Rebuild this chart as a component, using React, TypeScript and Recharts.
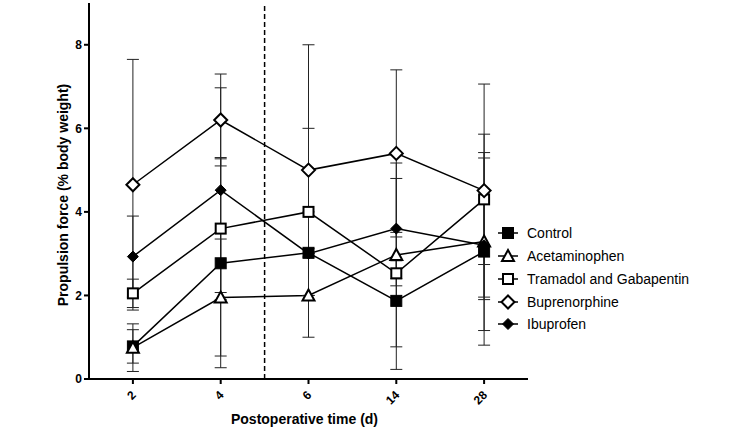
import { LineChart, Line, XAxis, YAxis, ErrorBar, ReferenceLine, Legend } from 'recharts'

// postoperative days (x categories)
const days = ['2', '4', '6', '14', '28']

// mean and SD per group
const controlMean = [0.78, 2.77, 3.02, 1.87, 3.05]
const controlSd = [0.4, 2.5, 0.1, 1.64, 2.24]
const acetaminophenMean = [0.75, 1.95, 2.0, 2.97, 3.29]
const acetaminophenSd = [0.57, 1.4, 1.0, 2.2, 2.13]
const tramadolMean = [2.05, 3.6, 4.0, 2.53, 4.3]
const tramadolSd = [0.34, 1.7, 2.0, 0.3, 1.56]
const buprenorphineMean = [4.65, 6.2, 5.0, 5.4, 4.51]
const buprenorphineSd = [3.0, 1.1, 3.0, 2.0, 2.55]
const ibuprofenMean = [2.93, 4.52, 3.0, 3.6, 3.2]
const ibuprofenSd = [0.97, 2.45, 1.0, 1.2, 1.3]

const yTicks = [0, 2, 4, 6, 8]
// dashed divider sits between day 4 and day 6
const dividerPos = 1.5

const FONT = 'Arial, "Liberation Sans", sans-serif'

type Shape = 'square' | 'triangle' | 'diamond'

const series: { key: string; name: string; shape: Shape; filled: boolean }[] = [
  { key: 'control', name: 'Control', shape: 'square', filled: true },
  { key: 'acetaminophen', name: 'Acetaminophen', shape: 'triangle', filled: false },
  { key: 'tramadol', name: 'Tramadol and Gabapentin', shape: 'square', filled: false },
  { key: 'buprenorphine', name: 'Buprenorphine', shape: 'diamond', filled: false },
  { key: 'ibuprofen', name: 'Ibuprofen', shape: 'diamond', filled: true },
]

const data = days.map((d, i) => ({
  pos: i,
  day: d,
  control: controlMean[i],
  controlSd: controlSd[i],
  acetaminophen: acetaminophenMean[i],
  acetaminophenSd: acetaminophenSd[i],
  tramadol: tramadolMean[i],
  tramadolSd: tramadolSd[i],
  buprenorphine: buprenorphineMean[i],
  buprenorphineSd: buprenorphineSd[i],
  ibuprofen: ibuprofenMean[i],
  ibuprofenSd: ibuprofenSd[i],
}))

function Marker({ shape, filled, cx, cy }: { shape: Shape; filled: boolean; cx: number; cy: number }) {
  const fill = filled ? '#000' : '#fff'
  const sw = filled ? 1 : 2
  if (shape === 'square') {
    const s = filled ? 5.5 : 5
    return <rect x={cx - s} y={cy - s} width={s * 2} height={s * 2} fill={fill} stroke="#000" strokeWidth={sw} />
  }
  if (shape === 'triangle') {
    return (
      <polygon
        points={`${cx},${cy - 6} ${cx + 6},${cy + 5} ${cx - 6},${cy + 5}`}
        fill={fill}
        stroke="#000"
        strokeWidth={sw}
        strokeLinejoin="miter"
      />
    )
  }
  const r = filled ? 5.5 : 6.5
  return (
    <polygon
      points={`${cx},${cy - r} ${cx + r},${cy} ${cx},${cy + r} ${cx - r},${cy}`}
      fill={fill}
      stroke="#000"
      strokeWidth={sw}
    />
  )
}

function DayTick({ x, y, payload }: any) {
  return (
    <text
      x={x + 1}
      y={y + 7}
      transform={`rotate(-45 ${x + 1} ${y + 7})`}
      textAnchor="end"
      dominantBaseline="central"
      fontFamily={FONT}
      fontWeight="bold"
      fontSize={12}
      fill="#000"
    >
      {days[payload.value]}
    </text>
  )
}

const renderLegend = () => (
  <div style={{ fontFamily: FONT, fontSize: 14, color: '#000' }}>
    {series.map((s) => (
      <div key={s.key} style={{ display: 'flex', alignItems: 'center', height: 22.75, whiteSpace: 'nowrap' }}>
        <svg width={22} height={16} style={{ display: 'block' }}>
          <line x1={1} x2={21} y1={8} y2={8} stroke="#000" strokeWidth={1.5} />
          <Marker shape={s.shape} filled={s.filled} cx={11} cy={8} />
        </svg>
        <span style={{ marginLeft: 8 }}>{s.name}</span>
      </div>
    ))}
  </div>
)

export default function App() {
  return (
    <div style={{ position: 'absolute', left: 0, top: 0, width: 745, height: 428, background: '#fff' }}>
      <LineChart width={745} height={428} data={data} margin={{ top: 3, right: 217, bottom: 0, left: 29 }}>
        <XAxis
          type="number"
          dataKey="pos"
          domain={[-0.5, 4.5]}
          ticks={[0, 1, 2, 3, 4]}
          height={49}
          stroke="#000"
          strokeWidth={2}
          tickSize={5}
          tickMargin={2}
          tick={<DayTick />}
          label={{
            content: ({ viewBox }: any) => (
              <text
                x={viewBox.x + viewBox.width / 2 - 4}
                y={viewBox.y + 40}
                textAnchor="middle"
                dominantBaseline="central"
                fontFamily={FONT}
                fontWeight="bold"
                fontSize={14}
                fill="#000"
              >
                Postoperative time (d)
              </text>
            ),
          }}
        />
        <YAxis
          domain={[0, 9]}
          ticks={yTicks}
          width={60}
          stroke="#000"
          strokeWidth={2}
          tickSize={5}
          tickMargin={2}
          tick={{ fill: '#000', fontSize: 12, fontWeight: 'bold', fontFamily: FONT }}
          label={{
            content: ({ viewBox }: any) => {
              const lx = viewBox.x + 34
              const ly = viewBox.y + viewBox.height / 2 + 4
              return (
                <text
                  x={lx}
                  y={ly}
                  transform={`rotate(-90 ${lx} ${ly})`}
                  textAnchor="middle"
                  dominantBaseline="central"
                  fontFamily={FONT}
                  fontWeight="bold"
                  fontSize={14}
                  fill="#000"
                >
                  Propulsion force (% body weight)
                </text>
              )
            },
          }}
        />
        <ReferenceLine x={dividerPos} stroke="#000" strokeWidth={1.5} strokeDasharray="5 3" />
        {series.map((s) => (
          <Line
            key={s.key}
            type="linear"
            dataKey={s.key}
            name={s.name}
            stroke="#000"
            strokeWidth={1.5}
            isAnimationActive={false}
            activeDot={false}
            dot={(p: any) => (
              <Marker key={`${s.key}-${p.index}`} shape={s.shape} filled={s.filled} cx={p.cx} cy={p.cy} />
            )}
          >
            <ErrorBar dataKey={`${s.key}Sd`} width={6} stroke="#222" strokeWidth={1} direction="y" />
          </Line>
        ))}
        <Legend
          layout="vertical"
          align="center"
          verticalAlign="middle"
          content={renderLegend}
          wrapperStyle={{ left: 497, top: 222, width: 240 }}
        />
      </LineChart>
    </div>
  )
}
